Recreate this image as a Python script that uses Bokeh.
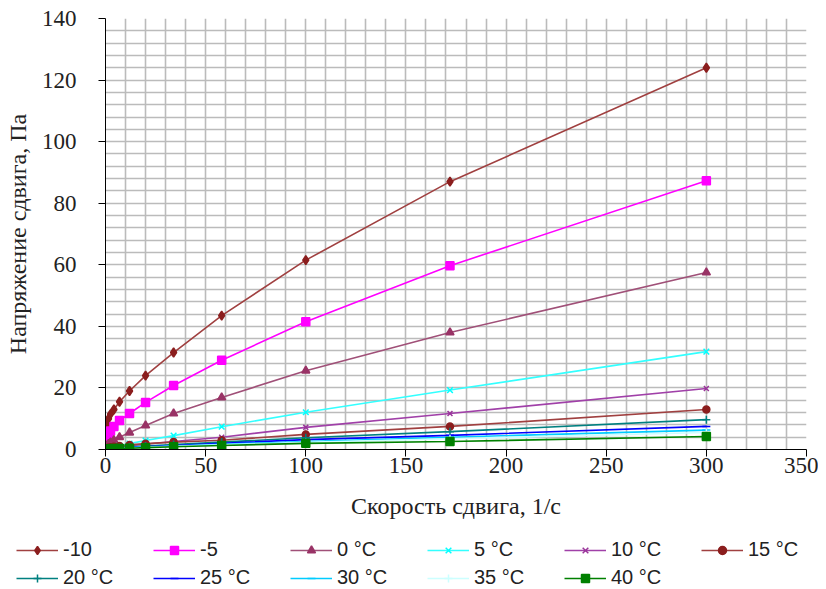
from bokeh.plotting import figure
from bokeh.models import Legend, LegendItem, FixedTicker, Range1d, Grid
from bokeh.layouts import column
from bokeh.embed import file_html
from bokeh.resources import INLINE

shear = [0.5, 0.9, 1.5, 2.5, 4.2, 7, 12, 20, 34, 58, 100, 172, 300]

t_m10 = [6, 8, 10, 11.5, 13, 15.5, 19, 24, 31.5, 43.5, 61.5, 87, 124]
t_m5 = [3, 4, 5, 6, 7.5, 9.4, 11.7, 15.3, 20.8, 29, 41.5, 59.7, 87.3]
t_0 = [1, 1.3, 1.8, 2.3, 3, 4, 5.5, 7.8, 11.7, 16.9, 25.6, 38, 57.5]
t_5 = [0.4, 0.5, 0.6, 0.8, 1.0, 1.3, 1.9, 2.9, 4.5, 7.4, 12.1, 19.3, 31.8]
t_10 = [0.3, 0.4, 0.5, 0.6, 0.7, 0.9, 1.2, 1.7, 2.6, 4.0, 7.2, 11.7, 19.8]
t_15 = [0.4, 0.5, 0.6, 0.7, 0.9, 1.1, 1.5, 1.9, 2.4, 3.0, 4.9, 7.5, 13]
t_20 = [0.2, 0.3, 0.3, 0.4, 0.5, 0.6, 0.8, 1.1, 1.6, 2.4, 3.8, 5.8, 9.7]
t_25 = [0.2, 0.2, 0.3, 0.3, 0.4, 0.5, 0.7, 0.9, 1.3, 2.0, 3.2, 4.6, 7.5]
t_30 = [0.1, 0.2, 0.2, 0.3, 0.3, 0.4, 0.6, 0.8, 1.1, 1.7, 2.6, 4.0, 6.3]
t_35 = [0.1, 0.1, 0.2, 0.2, 0.3, 0.4, 0.5, 0.7, 1.0, 1.5, 2.3, 3.5, 5.5]
t_40 = [0.1, 0.1, 0.2, 0.2, 0.3, 0.3, 0.4, 0.6, 0.9, 1.3, 2.0, 2.6, 4.2]

labels = ["-10", "-5", "0 °C", "5 °C", "10 °C", "15 °C",
          "20 °C", "25 °C", "30 °C", "35 °C", "40 °C"]
x_ticks = [0, 50, 100, 150, 200, 250, 300, 350]
y_ticks = [0, 20, 40, 60, 80, 100, 120, 140]

series = [t_m10, t_m5, t_0, t_5, t_10, t_15, t_20, t_25, t_30, t_35, t_40]
colors = ["#8B1E1E", "#FF00FF", "#993366", "#00FFFF", "#993399", "#8B1E1E",
          "#008080", "#0000FF", "#00CCFF", "#CCFFFF", "#008000"]
line_colors = ["#A04040", "#FF00FF", "#A05078", "#33FFFF", "#A040A8", "#A04040",
               "#008080", "#0000FF", "#00CCFF", "#CCFFFF", "#008000"]
markers = ["diamond", "square", "triangle", "x", "x", "circle",
           "cross", "dash", "dash", "cross", "square"]
sizes = [9, 8, 8, 8, 7, 7, 8, 8, 8, 8, 8]

p = figure(width=818, height=528, output_backend="svg", toolbar_location=None,
           x_range=Range1d(0, 350), y_range=Range1d(0, 140),
           min_border_left=105, min_border_right=12, min_border_top=18,
           min_border_bottom=79)
p.frame_align = False
p.outline_line_color = None
p.background_fill_color = "white"
p.border_fill_color = "white"

p.xgrid.visible = False
p.ygrid.visible = False
p.add_layout(Grid(dimension=0, ticker=FixedTicker(ticks=list(range(0, 351, 10))),
                  grid_line_color="#bbbbbb", grid_line_width=1.6))
p.add_layout(Grid(dimension=1, ticker=FixedTicker(ticks=list(range(0, 141, 4))),
                  grid_line_color="#bbbbbb", grid_line_width=1.6))

for ax, ticks in ((p.xaxis, x_ticks), (p.yaxis, y_ticks)):
    ax.ticker = FixedTicker(ticks=ticks)
    ax.major_tick_out = 7
    ax.major_tick_in = 0
    ax.minor_tick_out = 0
    ax.minor_tick_in = 0
    ax.axis_line_color = "black"
    ax.major_tick_line_color = "black"
    ax.major_label_text_font = "Liberation Serif"
    ax.major_label_text_font_size = "23px"
    ax.major_label_text_color = "#222222"
    ax.axis_label_text_font = "Liberation Serif"
    ax.axis_label_text_font_size = "24px"
    ax.axis_label_text_font_style = "normal"
    ax.axis_label_text_color = "#222222"

p.xaxis.axis_label = "Скорость сдвига, 1/с"
p.yaxis.axis_label = "Напряжение сдвига, Па"
p.xaxis.major_label_standoff = 1
p.xaxis.axis_label_standoff = 17
p.yaxis.major_label_standoff = 22
p.yaxis.axis_label_standoff = 8

for ys, c, lc, m, s in zip(series, colors, line_colors, markers, sizes):
    p.line(shear, ys, line_color=lc, line_width=1.6)
    p.scatter(shear, ys, marker=m, size=s, fill_color=c,
              line_color=c, line_width=1.5)

# legend panel below the chart (same styling as the plotted series)
q = figure(width=818, height=61, output_backend="svg", toolbar_location=None,
           x_range=Range1d(0, 1), y_range=Range1d(0, 1),
           x_axis_type=None, y_axis_type=None,
           min_border_left=0, min_border_right=0, min_border_top=0,
           min_border_bottom=0)
q.frame_align = False
q.outline_line_color = None
q.xgrid.visible = False
q.ygrid.visible = False
q.border_fill_color = "white"

off = [-5, -4]  # keys placed outside the visible range; only their legend glyphs show
items = []
for lab, c, lc, m, s in zip(labels, colors, line_colors, markers, sizes):
    lr = q.line(off, off, line_color=lc, line_width=1.6)
    sr = q.scatter(off, off, marker=m, size=s, fill_color=c, line_color=c, line_width=1.5)
    items.append(LegendItem(label=lab, renderers=[lr, sr]))

legend = Legend(items=items, ncols=6, orientation="horizontal", location=(16, 0),
                glyph_width=42, glyph_height=20, label_width=85, label_height=20,
                label_standoff=5, spacing=5, padding=0, margin=0,
                label_text_font="Liberation Sans", label_text_font_size="20px",
                label_text_color="#222222",
                border_line_color=None, background_fill_alpha=0)
q.add_layout(legend, "center")

open("out.html", "w").write(file_html(column(p, q, spacing=0), INLINE))
